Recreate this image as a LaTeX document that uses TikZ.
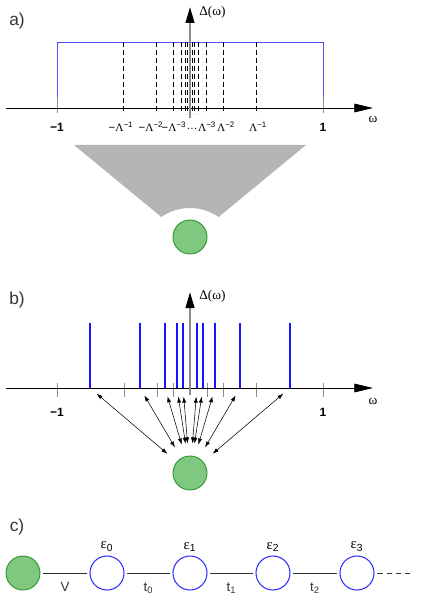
\documentclass[tikz,border=0pt]{standalone}
\usepackage{fontspec}
\setmainfont{Liberation Sans}
\newfontfamily\grk{Liberation Serif}
\usetikzlibrary{arrows.meta, positioning, calc}
\definecolor{dotgreen}{RGB}{128,200,128}
\definecolor{dotedge}{RGB}{45,150,45}
\definecolor{boxblue}{RGB}{80,80,255}
\definecolor{siteblue}{RGB}{50,50,255}
\definecolor{spikeblue}{RGB}{20,20,255}

\begin{document}
\begin{tikzpicture}[x=0.75pt, y=-0.75pt,
  panel/.style={font=\fontsize{13}{15}\selectfont, text=black!80, inner sep=0pt},
  lbl/.style={font=\fontsize{8.5}{9}\selectfont, inner sep=0pt},
  glbl/.style={font=\fontsize{10}{11}\selectfont\grk, inner sep=0pt},
  elbl/.style={font=\fontsize{11}{12}\selectfont\grk, inner sep=0pt},
  clbl/.style={font=\fontsize{10}{11}\selectfont, inner sep=0pt},
  dot/.style={circle, minimum size=25.5pt, inner sep=0pt, fill=dotgreen, draw=dotedge, line width=0.7pt},
  site/.style={circle, minimum size=25.5pt, inner sep=0pt, fill=white, draw=siteblue, line width=0.8pt},
  haxis/.style={line width=0.6pt, -{Triangle[length=14pt, width=6.5pt]}},
  vaxis/.style={line width=1.5pt, black!45, -{Triangle[length=12pt, width=6.5pt, color=black]}},
  gtick/.style={black!45, line width=0.6pt},
  dashln/.style={line width=0.7pt, dash pattern=on 4pt off 2pt},
  spike/.style={draw=spikeblue, line width=0.9pt},
  hyb/.style={line width=0.4pt, {Latex[length=4.5pt, width=3pt]}-{Latex[length=4.5pt, width=3pt]}, shorten <=6.5pt, shorten >=9.5pt},
  link/.style={black!80, line width=0.6pt, shorten <=2pt, shorten >=2pt}]
\useasboundingbox (0,0) rectangle (420,605);

% ---------- a) ----------
\node[panel] (la) at (17,21) {a)};
% flat band
\draw[boxblue, line width=0.7pt] (57,97) |- (323,42) -- (323,97);
\draw[gtick] (57,97) -- (57,113);
\draw[gtick] (323,97) -- (323,113);
% logarithmic grid
\foreach \n in {1,...,6}{
  \draw[dashln] ({190+133/2^\n},42) -- ({190+133/2^\n},114);
  \draw[dashln] ({190-133/2^\n},42) -- ({190-133/2^\n},114);
}
% axes
\coordinate (aW) at (6,108);
\coordinate (aE) at (373,108);
\coordinate (aS) at (190,118);
\coordinate (aN) at (190,7);
\draw[haxis] (aW) -- (aE);
\draw[vaxis] (aS) -- (aN);
\node[glbl, anchor=west] (aD) at (199,12) {Δ(ω)};
\node[glbl] (aw) at (373,119) {ω};
% tick labels
\node[lbl, font=\fontsize{9}{10}\selectfont\bfseries] (am1) at (57,127) {−1};
\node[lbl, font=\fontsize{9}{10}\selectfont\bfseries] (ap1) at (323,127) {1};
\node[lbl] (aL1m) at (121,127) {−{\grk Λ}\textsuperscript{−1}};
\node[lbl] (aL2m) at (151,127) {−{\grk Λ}\textsuperscript{−2}};
\node[lbl] (aL3m) at (174,127) {−{\grk Λ}\textsuperscript{−3}};
\node[lbl] (adots) at (192,129) {\ldots};
\node[lbl] (aL3p) at (207,127) {{\grk Λ}\textsuperscript{−3}};
\node[lbl] (aL2p) at (226,127) {{\grk Λ}\textsuperscript{−2}};
\node[lbl] (aL1p) at (258,127) {{\grk Λ}\textsuperscript{−1}};
% mapping funnel
\fill[black!29] (74,145) -- (306,145) -- (218.6,217)
  arc[start angle=304.9, end angle=235.1, radius=50] -- cycle;
\node[dot] (ga) at (190,237) {};

% ---------- b) ----------
\node[panel] (lb) at (17,300) {b)};
\foreach \x in {57,124,157,173,207,223,256,323}
  \draw[gtick] (\x,383) -- (\x,397);
\coordinate (bW) at (6,388);
\coordinate (bE) at (373,388);
\coordinate (bS) at (190,395);
\coordinate (bN) at (190,292);
\draw[haxis] (bW) -- (bE);
% discrete levels
\foreach \x [count=\i] in {90,140,165,177,183,197,203,215,240,290}{
  \coordinate (f\i) at (\x,388);
  \path[spike] (\x,323) -- (f\i);
}
\draw[vaxis] (bS) -- (bN);
\node[glbl, anchor=west] (bD) at (199,296) {Δ(ω)};
\node[glbl] (bw) at (373,401) {ω};
\node[lbl, font=\fontsize{9}{10}\selectfont\bfseries] (bm1) at (57,412) {−1};
\node[lbl, font=\fontsize{9}{10}\selectfont\bfseries] (bp1) at (323,412) {1};
\node[dot, outer sep=0pt] (gb) at (190,473) {};
% hybridisations
\foreach \i in {1,...,10}
  \draw[hyb] (f\i) -- (gb);

% ---------- c) ----------
\node[panel] (lc) at (17,527) {c)};
\node[dot] (gc) at (23,573) {};
\node[site, label={[elbl, label distance=3pt]above:ε\textsubscript{\rmfamily0}}] (e0) at (107,573) {};
\node[site, label={[elbl, label distance=3pt]above:ε\textsubscript{\rmfamily1}}] (e1) at (190,573) {};
\node[site, label={[elbl, label distance=3pt]above:ε\textsubscript{\rmfamily2}}] (e2) at (273,573) {};
\node[site, label={[elbl, label distance=3pt]above:ε\textsubscript{\rmfamily3}}] (e3) at (357,573) {};
\coordinate (tail) at (410,573);
\draw[link] (gc) -- node[clbl, below=7pt] {V} (e0);
\draw[link] (e0) -- node[clbl, below=7pt] {t\textsubscript{0}} (e1);
\draw[link] (e1) -- node[clbl, below=7pt] {t\textsubscript{1}} (e2);
\draw[link] (e2) -- node[clbl, below=7pt] {t\textsubscript{2}} (e3);
\draw[link, dash pattern=on 4pt off 3pt, shorten >=0pt] (e3) -- (tail);
\end{tikzpicture}
\end{document}
